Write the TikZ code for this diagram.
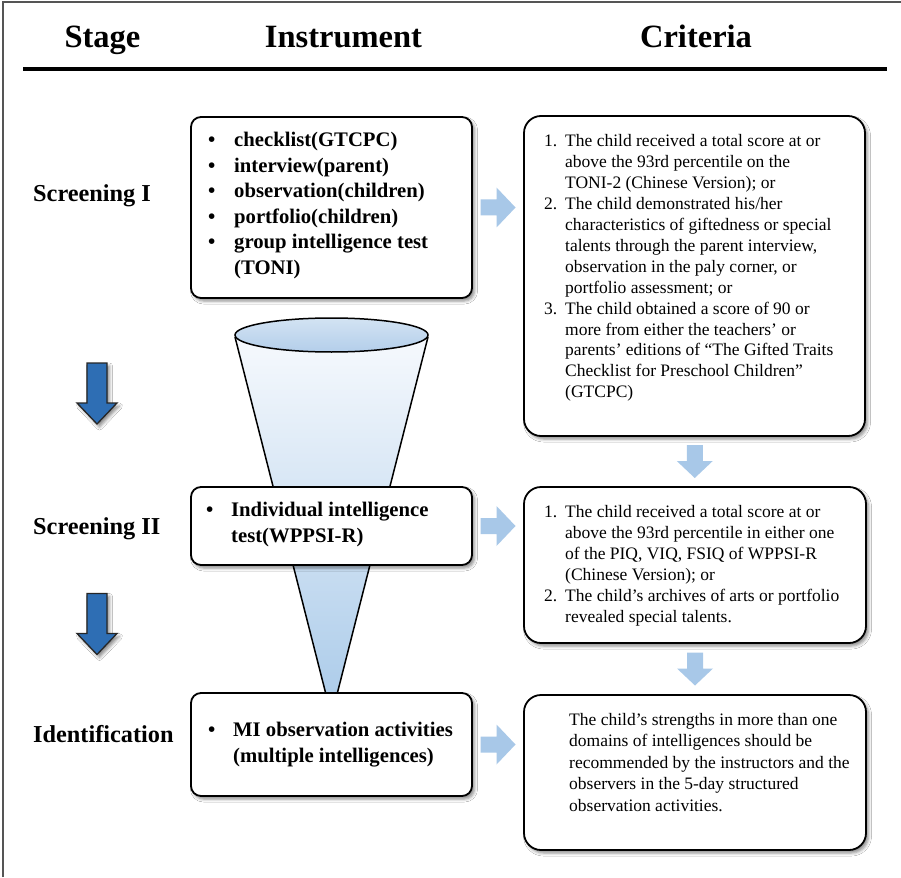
\documentclass[tikz,border=0pt]{standalone}
\usepackage{fontspec}
\setmainfont{Liberation Serif}
\usetikzlibrary{shadows.blur,calc}
\definecolor{lightarrow}{HTML}{A8C8E8}
\definecolor{darkarrow}{HTML}{2E6EB4}
\definecolor{funtop}{HTML}{F6F9FD}
\definecolor{funbot}{HTML}{A9CAE9}
\definecolor{elltop}{HTML}{D3E3F3}
\definecolor{ellbot}{HTML}{B3CEEA}
\definecolor{framecol}{HTML}{555555}
\begin{document}
\begin{tikzpicture}[x=1pt,y=-1pt,
  sh/.style={blur shadow={shadow xshift=2.5pt,shadow yshift=-3pt,shadow blur radius=3pt,shadow opacity=45}},
  ibox/.style={draw=black,line width=1.8pt,rounded corners=10pt,fill=white,sh,inner sep=0pt},
  cbox/.style={draw=black,line width=1.8pt,rounded corners=17pt,fill=white,sh,inner sep=0pt},
  head/.style={font=\fontsize{32.5}{36}\selectfont\bfseries,inner sep=0pt,anchor=base},
  stagelab/.style={font=\fontsize{24.3}{28}\selectfont\bfseries,inner sep=0pt,anchor=base west},
  itext/.style={inner sep=0pt,anchor=base west,align=left},
  ctext/.style={inner sep=0pt,anchor=base west,align=left},
  pics/rarrow/.style={code={\fill[lightarrow] (-17.5,-8) -- (-1.5,-8) -- (-1.5,-20) -- (17.5,0) -- (-1.5,20) -- (-1.5,8) -- (-17.5,8) -- cycle;}},
  pics/darrow/.style={code={\fill[lightarrow] (-8,-16.5) -- (8,-16.5) -- (8,-0.5) -- (18,-0.5) -- (0,16.5) -- (-18,-0.5) -- (-8,-0.5) -- cycle;}},
  pics/bigdarrow/.style={code={\draw[fill=darkarrow,draw=black!85,line width=1.3pt,line join=miter,sh] (-10,-30.5) -- (10,-30.5) -- (10,9.5) -- (20,9.5) -- (0,30.5) -- (-20,9.5) -- (-10,9.5) -- cycle;}}
]
\useasboundingbox (0,0) rectangle (901,877);
\fill[white] (0,0) rectangle (901,877);
% frame (cropped)
\draw[framecol,line width=1.3pt] (3,877) -- (3,2) -- (901,2);
% header
\node[head] (hstage) at (102.5,48) {Stage};
\node[head] (hinst) at (343.5,48) {Instrument};
\node[head] (hcrit) at (696,48) {Criteria};
\draw[line width=4pt] (23,69) -- (887,69);
% stage labels
\node[stagelab] (s1) at (33,202) {Screening I};
\node[stagelab] (s2) at (33,534) {Screening II};
\node[stagelab] (s3) at (33,742) {Identification};
% dark arrows
\pic at (97,393.5) {bigdarrow};
\pic at (97,624) {bigdarrow};
% funnel
\shade[top color=funtop,bottom color=funbot] (235,337) -- (331.5,716) -- (428,337) -- cycle;
\draw[line width=1.5pt,line join=round] (235,337) -- (331.5,716) -- (428,337);
\shade[top color=elltop,bottom color=ellbot] (331.5,335) ellipse [x radius=96.5,y radius=17];
\draw[line width=1.5pt] (331.5,335) ellipse [x radius=96.5,y radius=17];
% instrument boxes
\node[ibox,minimum width=281pt,minimum height=181pt] (ib1) at (331.5,207.5) {};
\node[ibox,minimum width=281pt,minimum height=78pt] (ib2) at (331.5,526) {};
\node[ibox,minimum width=281pt,minimum height=103pt] (ib3) at (331.5,744.5) {};
% criteria boxes
\node[cbox,minimum width=341pt,minimum height=320pt] (cb1) at (694.5,276) {};
\node[cbox,minimum width=342pt,minimum height=156pt] (cb2) at (695,565) {};
\node[cbox,minimum width=342pt,minimum height=155pt] (cb3) at (695,772.5) {};
% instrument texts
\node[itext] (it1) at (208,147) {\fontsize{20.7}{25.5}\selectfont\bfseries
\begin{tabular}[t]{@{}p{26pt}@{}l@{}}
\textbullet & checklist(GTCPC)\\
\textbullet & interview(parent)\\
\textbullet & observation(children)\\
\textbullet & portfolio(children)\\
\textbullet & group intelligence test\\
 & (TONI)
\end{tabular}};
\node[itext] (it2) at (206,516) {\fontsize{20.7}{26}\selectfont\bfseries
\begin{tabular}[t]{@{}p{25pt}@{}l@{}}
\textbullet & Individual intelligence\\
 & test(WPPSI-R)
\end{tabular}};
\node[itext] (it3) at (208,736) {\fontsize{20.7}{26}\selectfont\bfseries
\begin{tabular}[t]{@{}p{25pt}@{}l@{}}
\textbullet & MI observation activities\\
 & (multiple intelligences)
\end{tabular}};
% criteria texts
\node[ctext] (ct1) at (544,147) {\fontsize{17.5}{20.9}\selectfont
\begin{tabular}[t]{@{}p{21pt}@{}l@{}}
1. & The child received a total score at or\\
 & above the 93rd percentile on the\\
 & TONI-2 (Chinese Version); or\\
2. & The child demonstrated his/her\\
 & characteristics of giftedness or special\\
 & talents through the parent interview,\\
 & observation in the paly corner, or\\
 & portfolio assessment; or\\
3. & The child obtained a score of 90 or\\
 & more from either the teachers’ or\\
 & parents’ editions of “The Gifted Traits\\
 & Checklist for Preschool Children”\\
 & (GTCPC)
\end{tabular}};
\node[ctext] (ct2) at (544,517) {\fontsize{17.5}{21}\selectfont
\begin{tabular}[t]{@{}p{21pt}@{}l@{}}
1. & The child received a total score at or\\
 & above the 93rd percentile in either one\\
 & of the PIQ, VIQ, FSIQ of WPPSI-R\\
 & (Chinese Version); or\\
2. & The child’s archives of arts or portfolio\\
 & revealed special talents.
\end{tabular}};
\node[ctext] (ct3) at (569,725) {\fontsize{17.5}{21.5}\selectfont
\begin{tabular}[t]{@{}l@{}}
The child’s strengths in more than one\\
domains of intelligences should be\\
recommended by the instructors and the\\
observers in the 5-day structured\\
observation activities.
\end{tabular}};
% light arrows between boxes
\pic at ($(ib1.east)!0.5!(ib1.east -| cb1.west)$) {rarrow};
\pic at ($(ib2.east)!0.5!(ib2.east -| cb2.west)$) {rarrow};
\pic at ($(ib3.east)!0.5!(ib3.east -| cb3.west)$) {rarrow};
\pic at ($(cb1.south)!0.5!(cb2.north)$) {darrow};
\pic at ($(cb2.south)!0.5!(cb3.north)$) {darrow};
\end{tikzpicture}
\end{document}
